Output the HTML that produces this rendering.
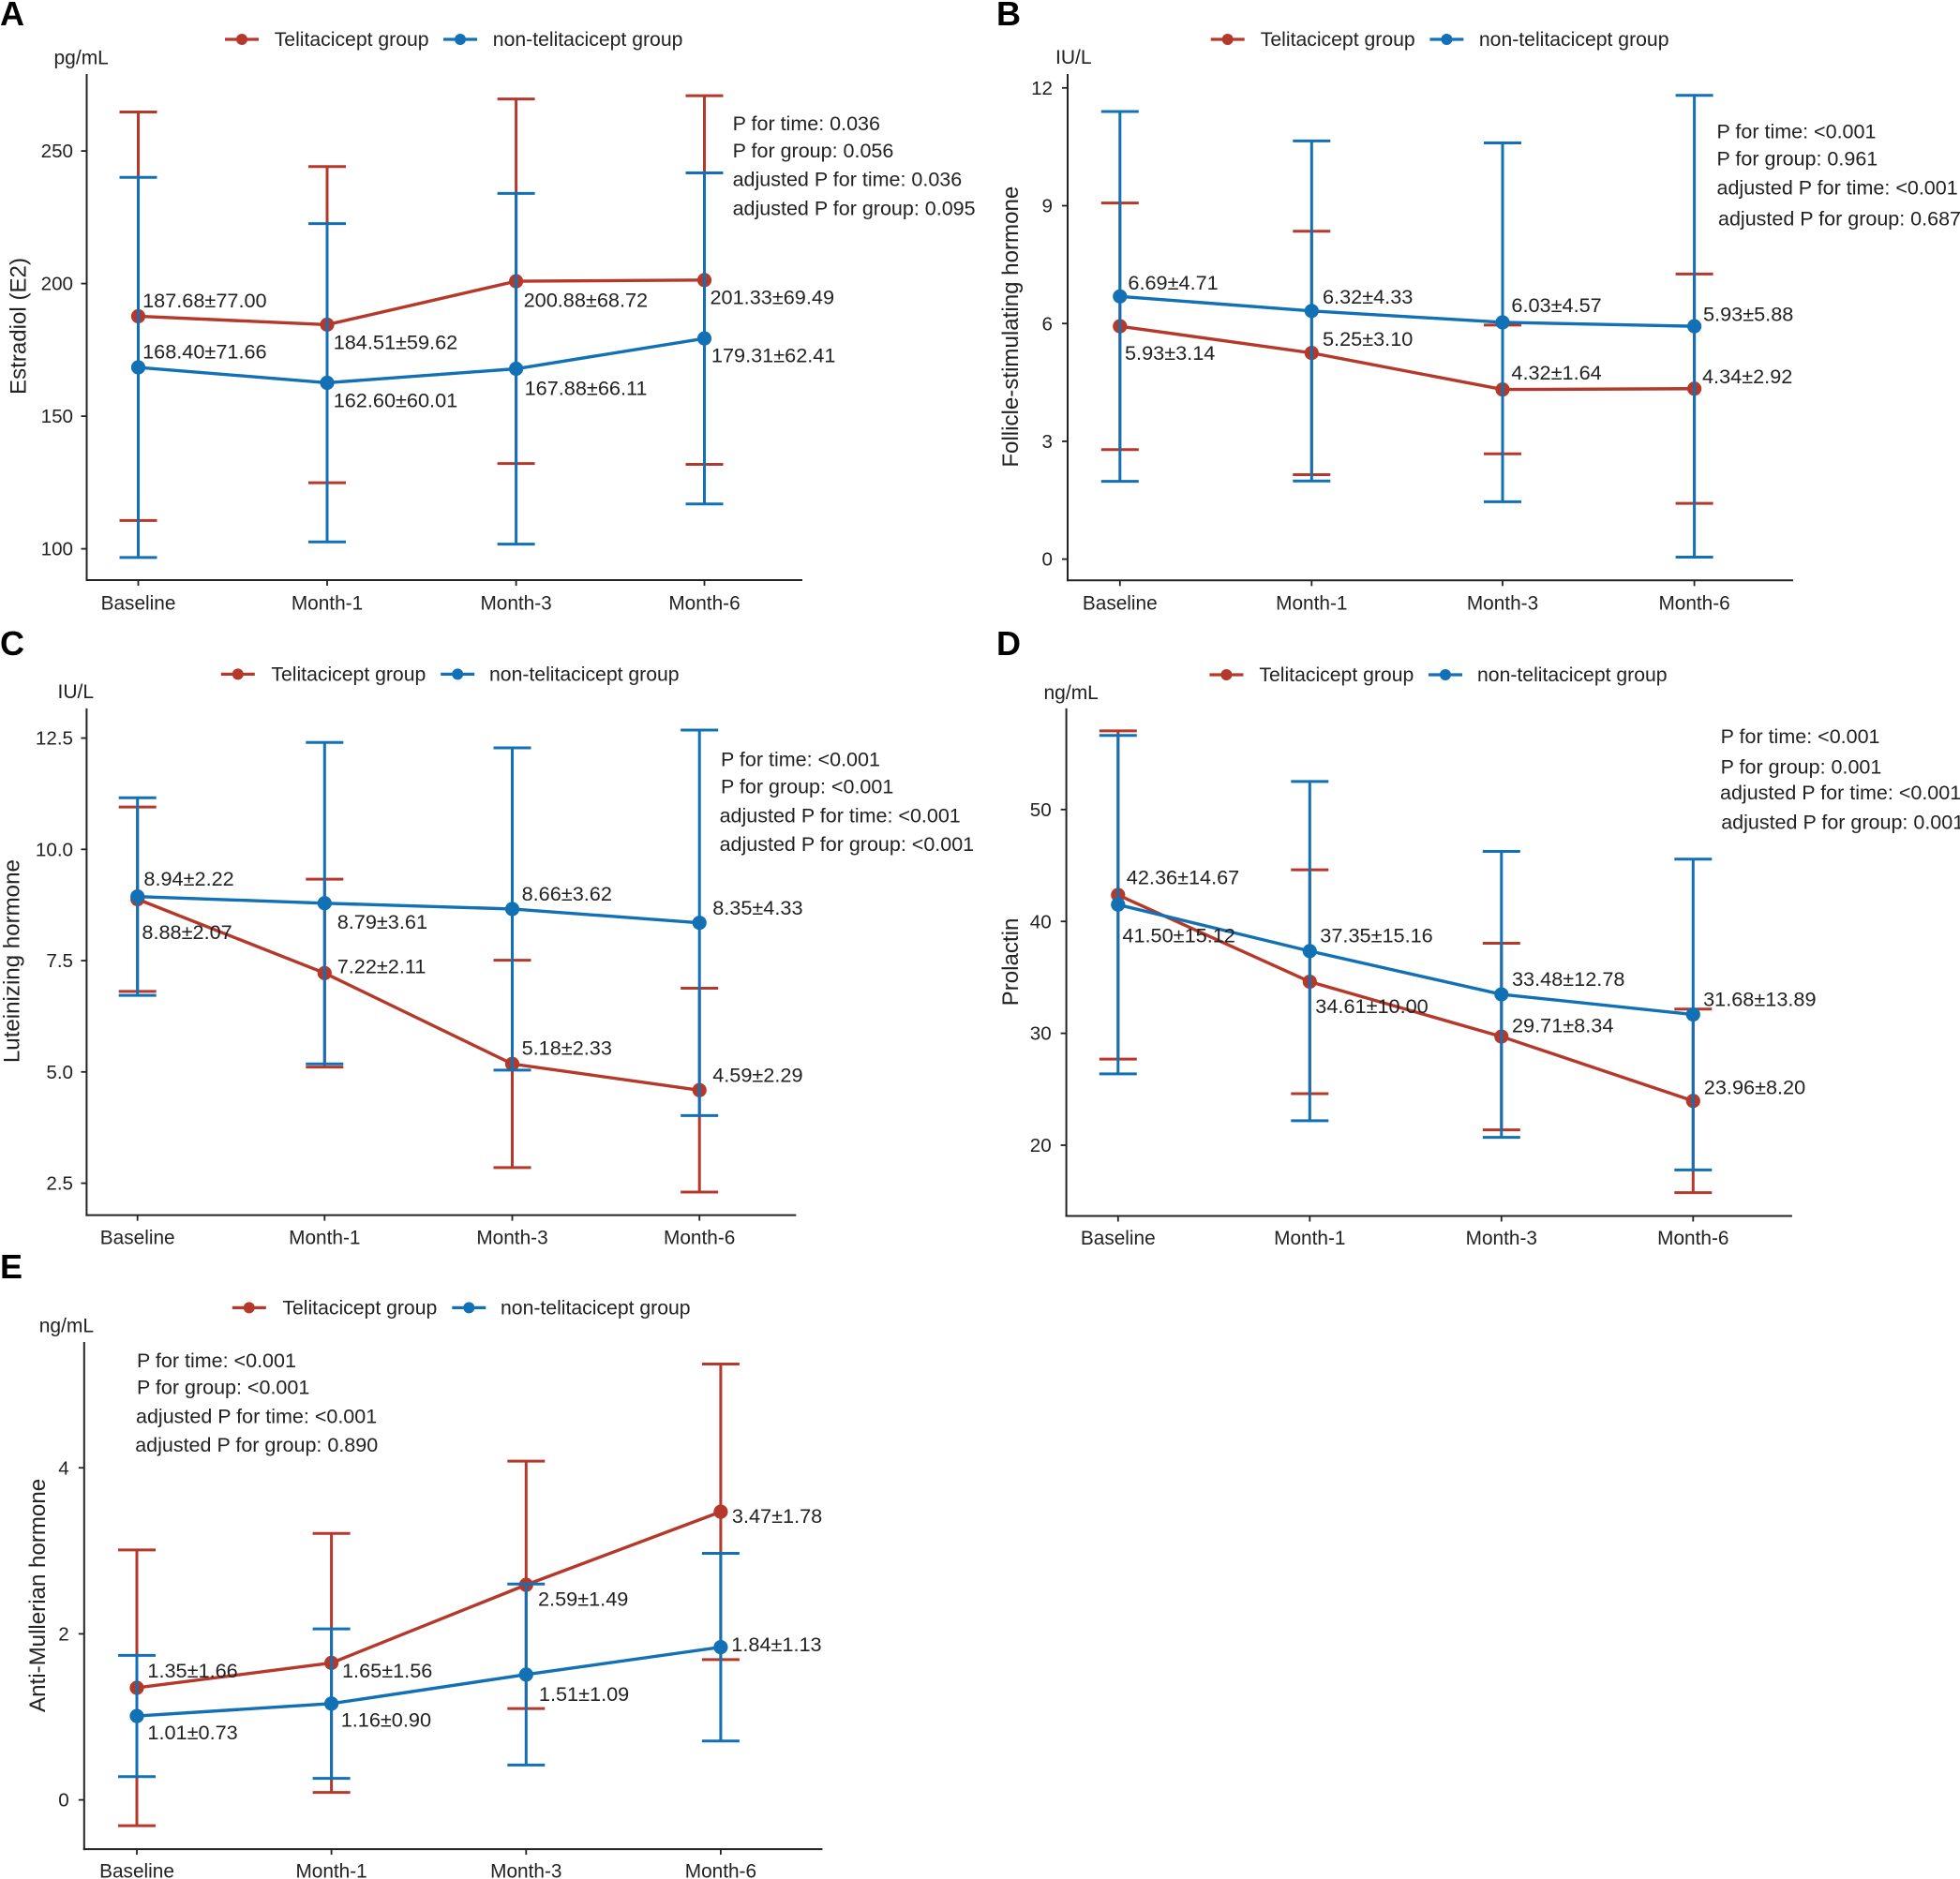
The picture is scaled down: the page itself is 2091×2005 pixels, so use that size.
<!DOCTYPE html>
<html lang="en">
<head>
<meta charset="utf-8">
<title>Hormone levels: Telitacicept vs non-telitacicept group</title>
<style>
html,body{margin:0;padding:0;background:#fff;}
svg{display:block;}
text{font-family:"Liberation Sans",Arial,sans-serif;fill:#222;}
</style>
</head>
<body>
<svg id="figure" xmlns="http://www.w3.org/2000/svg" width="2091" height="2005" viewBox="0 0 2091 2005"></svg>
<script>
const categories = ['Baseline', 'Month-1', 'Month-3', 'Month-6'];
const seriesNames = ['Telitacicept group', 'non-telitacicept group'];

const estradiolRedMeans = [187.68, 184.51, 200.88, 201.33];
const estradiolRedSds = [77.00, 59.62, 68.72, 69.49];
const estradiolBlueMeans = [168.40, 162.60, 167.88, 179.31];
const estradiolBlueSds = [71.66, 60.01, 66.11, 62.41];
const estradiolTicks = [100, 150, 200, 250];
const estradiolTickLabels = ['100', '150', '200', '250'];
const estradiolStats = ['P for time: 0.036', 'P for group: 0.056', 'adjusted P for time: 0.036', 'adjusted P for group: 0.095'];

const fshRedMeans = [5.93, 5.25, 4.32, 4.34];
const fshRedSds = [3.14, 3.10, 1.64, 2.92];
const fshBlueMeans = [6.69, 6.32, 6.03, 5.93];
const fshBlueSds = [4.71, 4.33, 4.57, 5.88];
const fshTicks = [0, 3, 6, 9, 12];
const fshTickLabels = ['0', '3', '6', '9', '12'];
const fshStats = ['P for time: <0.001', 'P for group: 0.961', 'adjusted P for time: <0.001', 'adjusted P for group: 0.687'];

const lhRedMeans = [8.88, 7.22, 5.18, 4.59];
const lhRedSds = [2.07, 2.11, 2.33, 2.29];
const lhBlueMeans = [8.94, 8.79, 8.66, 8.35];
const lhBlueSds = [2.22, 3.61, 3.62, 4.33];
const lhTicks = [2.5, 5, 7.5, 10, 12.5];
const lhTickLabels = ['2.5', '5.0', '7.5', '10.0', '12.5'];
const lhStats = ['P for time: <0.001', 'P for group: <0.001', 'adjusted P for time: <0.001', 'adjusted P for group: <0.001'];

const prolactinRedMeans = [42.36, 34.61, 29.71, 23.96];
const prolactinRedSds = [14.67, 10.00, 8.34, 8.20];
const prolactinBlueMeans = [41.50, 37.35, 33.48, 31.68];
const prolactinBlueSds = [15.12, 15.16, 12.78, 13.89];
const prolactinTicks = [20, 30, 40, 50];
const prolactinTickLabels = ['20', '30', '40', '50'];
const prolactinStats = ['P for time: <0.001', 'P for group: 0.001', 'adjusted P for time: <0.001', 'adjusted P for group: 0.001'];

const amhRedMeans = [1.35, 1.65, 2.59, 3.47];
const amhRedSds = [1.66, 1.56, 1.49, 1.78];
const amhBlueMeans = [1.01, 1.16, 1.51, 1.84];
const amhBlueSds = [0.73, 0.90, 1.09, 1.13];
const amhTicks = [0, 2, 4];
const amhTickLabels = ['0', '2', '4'];
const amhStats = ['P for time: <0.001', 'P for group: <0.001', 'adjusted P for time: <0.001', 'adjusted P for group: 0.890'];

/* Layout only: geometry and label offsets, no chart values */
const RED = '#B5392B';
const BLUE = '#1270B5';
const AXIS = '#222222';
const FONT_TICK = 20.6;
const FONT_CATEGORY = 20.8;
const FONT_VALUE = 21.7;
const FONT_STAT = 21.5;
const FONT_LEGEND = 21.2;
const FONT_UNIT = 21;
const panels = [
  { key: 'estradiol', letter: 'A', letterX: 0, letterY: 27, title: 'Estradiol (E2)', unit: 'pg/mL', unitX: 57.5, unitY: 61.5, titleX: 19.5, titleY: 348,
    left: 92.5, right: 856, top: 79, bottom: 619, cats: [147.5, 349, 550.6, 751.5], v0: 100, y0: 585.6, k: 2.83, tickRight: 78, catLabelY: 643.5,
    redM: estradiolRedMeans, redS: estradiolRedSds, blueM: estradiolBlueMeans, blueS: estradiolBlueSds, ticks: estradiolTicks, tickLabels: estradiolTickLabels, stats: estradiolStats,
    statX: [781.6, 781.6, 781.6, 781.6], statY: [131.8, 160.5, 191.2, 222],
    legendY: 42, legendRedLine: 240, legendRedText: 292.7, legendBlueLine: 473, legendBlueText: 525.8,
    redDx: [4.6, 6.7, 8, 6], redDy: [-16.8, 18.5, 20, 18], blueDx: [4.6, 6.7, 9, 7.4], blueDy: [-16.8, 18.5, 20.4, 18] },
  { key: 'fsh', letter: 'B', letterX: 1063, letterY: 27, title: 'Follicle-stimulating hormone', unit: 'IU/L', unitX: 1126, unitY: 61, titleX: 1078, titleY: 348.7,
    left: 1139, right: 1913, top: 79, bottom: 619.3, cats: [1194.8, 1399.3, 1603, 1807.6], v0: 0, y0: 596.6, k: 41.9, tickRight: 1123, catLabelY: 643.5,
    redM: fshRedMeans, redS: fshRedSds, blueM: fshBlueMeans, blueS: fshBlueSds, ticks: fshTicks, tickLabels: fshTickLabels, stats: fshStats,
    statX: [1831.5, 1831.5, 1831.5, 1833], statY: [140, 169, 200, 232.9],
    legendY: 42, legendRedLine: 1291.7, legendRedText: 1344.8, legendBlueLine: 1525.4, legendBlueText: 1577.9,
    redDx: [5.2, 11.7, 9.4, 8.4], redDy: [28.3, -15.3, -18.3, -13.2], blueDx: [8.6, 11.7, 9.4, 9.4], blueDy: [-14.9, -15.2, -18.3, -13.3] },
  { key: 'lh', letter: 'C', letterX: 0, letterY: 699, title: 'Luteinizing hormone', unit: 'IU/L', unitX: 61.5, unitY: 738, titleX: 12.4, titleY: 1025.6,
    left: 92.4, right: 849.3, top: 755.9, bottom: 1296.6, cats: [146.7, 346.3, 546.5, 746.2], v0: 5, y0: 1143.8, k: 47.5, tickRight: 78, catLabelY: 1320.5,
    redM: lhRedMeans, redS: lhRedSds, blueM: lhBlueMeans, blueS: lhBlueSds, ticks: lhTicks, tickLabels: lhTickLabels, stats: lhStats,
    statX: [769, 769, 767.6, 767.6], statY: [810, 839, 870, 900.7],
    legendY: 719.4, legendRedLine: 235.8, legendRedText: 289.4, legendBlueLine: 470.2, legendBlueText: 522,
    redDx: [4.7, 13.4, 10.1, 14], redDy: [35.1, -7.4, -17.1, -16.5], blueDx: [6.7, 13.4, 10.1, 14], blueDy: [-18.9, 19.5, -16.6, -16.1] },
  { key: 'prolactin', letter: 'D', letterX: 1063, letterY: 699, title: 'Prolactin', unit: 'ng/mL', unitX: 1113.5, unitY: 739, titleX: 1077.9, titleY: 1026.5,
    left: 1137.6, right: 1911.9, top: 755.9, bottom: 1297.5, cats: [1192.8, 1397.3, 1601.8, 1806.3], v0: 20, y0: 1222, k: 11.94, tickRight: 1121.7, catLabelY: 1321,
    redM: prolactinRedMeans, redS: prolactinRedSds, blueM: prolactinBlueMeans, blueS: prolactinBlueSds, ticks: prolactinTicks, tickLabels: prolactinTickLabels, stats: prolactinStats,
    statX: [1835.6, 1835.6, 1835, 1836.2], statY: [785.8, 817.9, 845.6, 876.9],
    legendY: 720, legendRedLine: 1290.4, legendRedText: 1343.4, legendBlueLine: 1524, legendBlueText: 1576,
    redDx: [9, 6, 11.2, 11.5], redDy: [-18.9, 26, -12.2, -14.7], blueDx: [4.6, 11, 11.2, 10.8], blueDy: [32.9, -16.7, -16.5, -16.6] },
  { key: 'amh', letter: 'E', letterX: 0, letterY: 1364, title: 'Anti-Mullerian hormone', unit: 'ng/mL', unitX: 41.7, unitY: 1414.5, titleX: 40.2, titleY: 1702.4,
    left: 89.8, right: 877.4, top: 1432, bottom: 1973.1, cats: [146, 353.6, 561.3, 768.9], v0: 0, y0: 1920.6, k: 88.6, tickRight: 73.7, catLabelY: 1996.4,
    redM: amhRedMeans, redS: amhRedSds, blueM: amhBlueMeans, blueS: amhBlueSds, ticks: amhTicks, tickLabels: amhTickLabels, stats: amhStats,
    statX: [146, 146, 145, 144.2], statY: [1451.4, 1480.2, 1511.2, 1541.8],
    legendY: 1395.4, legendRedLine: 247.8, legendRedText: 301.4, legendBlueLine: 482.3, legendBlueText: 534,
    redDx: [11.4, 11.4, 12.7, 12], redDy: [-18.6, 8, 14.7, 4.4], blueDx: [11.4, 10.1, 13.6, 11.4], blueDy: [17.2, 17.2, 20.6, -3.1] }
];

const svg = document.getElementById('figure');
const NS = 'http://www.w3.org/2000/svg';

function make(parent, tag, attrs, content) {
  const el = document.createElementNS(NS, tag);
  for (const k in attrs) el.setAttribute(k, attrs[k]);
  if (content !== undefined) el.textContent = content;
  parent.appendChild(el);
  return el;
}

function label(parent, x, cy, str, anchor, size) {
  return make(parent, 'text', {
    x: x, y: cy + 0.345 * size, 'font-size': size, 'text-anchor': anchor
  }, str);
}

function drawSeries(panelGroup, p, yScale, means, sds, color, seriesKey, dxs, dys) {
  const g = make(panelGroup, 'g', {});
  
  

  means.forEach(function (m, i) {
    const x = p.cats[i];
    const hi = yScale(m + sds[i]);
    const lo = yScale(m - sds[i]);
    const bar = make(g, 'path', {
      d: 'M' + (x - 20) + ' ' + hi + 'H' + (x + 20) + 'M' + x + ' ' + hi + 'V' + lo + 'M' + (x - 20) + ' ' + lo + 'H' + (x + 20),
      fill: 'none', stroke: color, 'stroke-width': 3
    });
    
    
  });

  const pts = means.map(function (m, i) { return p.cats[i] + ',' + yScale(m); }).join(' ');
  const line = make(g, 'polyline', { points: pts, fill: 'none', stroke: color, 'stroke-width': 3.4 });
  
  

  means.forEach(function (m, i) {
    const dot = make(g, 'circle', { cx: p.cats[i], cy: yScale(m), r: 7.6, fill: color });
    
    
  });

  return function drawLabels() {
    means.forEach(function (m, i) {
      const t = label(panelGroup, p.cats[i] + dxs[i], yScale(m) + dys[i], m.toFixed(2) + '±' + sds[i].toFixed(2), 'start', FONT_VALUE);
      
      
    });
  };
}

panels.forEach(function (p) {
  const yScale = function (v) { return p.y0 - (v - p.v0) * p.k; };
  const pg = make(svg, 'g', {});
  
  

  const letter = make(pg, 'text', { x: p.letterX, y: p.letterY, 'font-size': 36, 'font-weight': 'bold' }, p.letter);
  letter.style.fill = '#000';
  
  

  const unit = label(pg, p.unitX, p.unitY, p.unit, 'start', FONT_UNIT);
  
  

  const title = make(pg, 'text', {
    x: 0, y: 0, 'font-size': 24.1, 'text-anchor': 'middle',
    transform: 'translate(' + (p.titleX + 8) + ' ' + p.titleY + ') rotate(-90)'
  }, p.title);
  
  

  const yAxis = make(pg, 'line', { x1: p.left, x2: p.left, y1: p.top, y2: p.bottom + 1, stroke: AXIS, 'stroke-width': 2 });
  
  

  const xAxis = make(pg, 'line', { x1: p.left - 1, x2: p.right, y1: p.bottom, y2: p.bottom, stroke: AXIS, 'stroke-width': 2 });
  
  

  p.ticks.forEach(function (v, i) {
    const mark = make(pg, 'line', { x1: p.left - 6, x2: p.left, y1: yScale(v), y2: yScale(v), stroke: AXIS, 'stroke-width': 1.8 });
    
    
    const t = label(pg, p.tickRight, yScale(v), p.tickLabels[i], 'end', FONT_TICK);
    
    
  });

  categories.forEach(function (c, i) {
    const mark = make(pg, 'line', { x1: p.cats[i], x2: p.cats[i], y1: p.bottom, y2: p.bottom + 6, stroke: AXIS, 'stroke-width': 1.8 });
    
    
    const t = label(pg, p.cats[i], p.catLabelY, c, 'middle', FONT_CATEGORY);
    
    
  });

  const redLabels = drawSeries(pg, p, yScale, p.redM, p.redS, RED, p.key + '-telitacicept', p.redDx, p.redDy);
  const blueLabels = drawSeries(pg, p, yScale, p.blueM, p.blueS, BLUE, p.key + '-non-telitacicept', p.blueDx, p.blueDy);
  redLabels();
  blueLabels();

  p.stats.forEach(function (s, i) {
    const t = label(pg, p.statX[i], p.statY[i], s, 'start', FONT_STAT);
    
    
  });

  const legend = make(pg, 'g', {});
  
  
  [[RED, p.legendRedLine, p.legendRedText, 'telitacicept'], [BLUE, p.legendBlueLine, p.legendBlueText, 'non-telitacicept']].forEach(function (e, i) {
    const keyLine = make(legend, 'line', { x1: e[1], x2: e[1] + 36, y1: p.legendY, y2: p.legendY, stroke: e[0], 'stroke-width': 3.2 });
    
    
    const keyDot = make(legend, 'circle', { cx: e[1] + 18, cy: p.legendY, r: 6, fill: e[0] });
    
    
    const keyText = label(legend, e[2], p.legendY - 0.4, seriesNames[i], 'start', FONT_LEGEND);
    
    
  });
});
</script>
</body>
</html>
